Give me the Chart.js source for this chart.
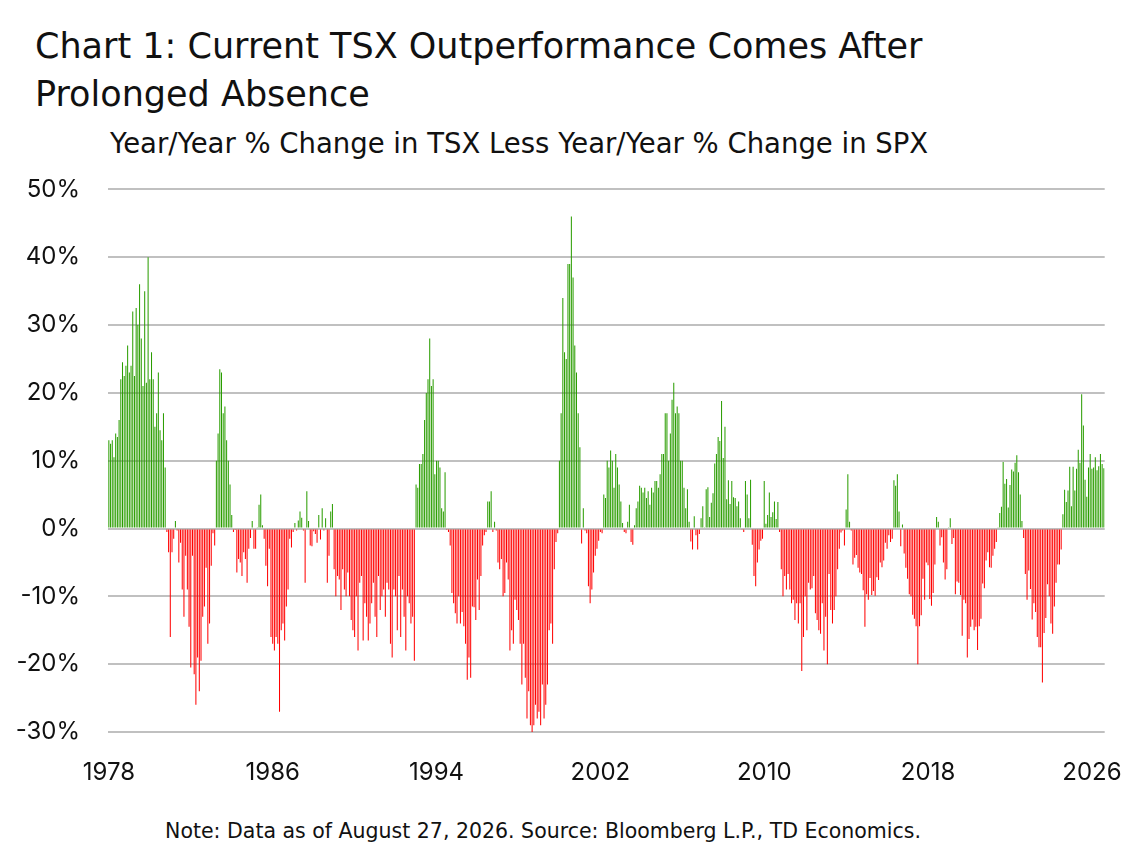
<!DOCTYPE html>
<html><head><meta charset="utf-8">
<script src="https://cdn.jsdelivr.net/npm/chart.js@4/dist/chart.umd.min.js"></script>
<style>
body{margin:0;background:#fff;font-family:"DejaVu Sans",sans-serif;color:#111;}
#t{position:absolute;left:35px;top:22px;font-size:35px;line-height:48px;font-weight:normal;}
#s{position:absolute;left:110px;top:127px;font-size:27.5px;}
#n{position:absolute;left:0;width:1086px;text-align:center;top:819px;font-size:20.5px;}
#c{position:absolute;left:0;top:147px;width:1140px;height:648px;}
</style></head><body>
<div id="t">Chart 1: Current TSX Outperformance Comes After<br>Prolonged Absence</div>
<div id="s">Year/Year % Change in TSX Less Year/Year % Change in SPX</div>
<div id="c"><canvas id="cv"></canvas></div>
<div id="n">Note: Data as of August 27, 2026. Source: Bloomberg L.P., TD Economics.</div>
<script>
const startYear = 1978;
const tickYears = [1978,1986,1994,2002,2010,2018,2026];
const values = [
13,12.5,13,10.5,14,13.5,16,22,24.5,22.5,24,27,
23,24,32,22.5,32.5,30,36,28,21,35,21.5,40,
22,26,22,15,17,23,14.5,13,17,9,-0.5,-3.5,
-16,-3.5,-1.5,1.1,-0.3,-5,-2.1,-9,-13,-4,-9,-14.5,
-20.5,-4,-21.5,-26,-19,-24,-19.5,-13,-11.5,-5.8,-17,-14,
-5.5,-0.7,-2.5,10,14,23.5,23,17,18,13,10,6.5,
2,-0.5,-0.2,-6.5,-4.5,-5,-7,-3.5,-4.5,-8,-3,-1.4,
1.1,-3,-3,0.2,3.5,5,0.5,-1.5,-5.5,-8.5,-3,-16,
-17,-18,-16,-17,-27,-15,-14,-16.5,-11.5,-9,-1.5,-2.8,
-0.5,0.8,-0.3,1.2,2.5,1.6,-0.3,-8,5.5,1.1,-2.5,-2.6,
-0.4,-0.8,-2.1,2,-1.6,3,-0.3,1.5,-8,-4,2.5,3.6,
-6,-10,-7,-7.5,-12,-6,-9,-10,-6.5,-10,-13.5,-15,
-16,-10,-18,-8,-7,-16.5,-11,-13,-16.5,-14,-11,-8,
-13,-16,-7,-12,-10,-9,-13,-8,-9,-17,-19,-9,
-10,-15,-7,-16,-9,-13,-18,-10,-11,-14,-13,-19.5,
6.5,6,9.5,9.5,11,16,20,22,28,21,22,8,
10,10,9,3,2.5,8.3,-0.2,-0.5,-2.5,-9.5,-11,-12.5,
-14,-10,-14,-12.3,-14.4,-17,-22.3,-19,-22,-11.5,-11.6,-13.5,
-7.5,-12,-7,-2.5,-1,-0.5,4,4,5.5,-0.5,1,-0.3,
-5,-6,-4.5,-10,-9.5,-5,-7.5,-18,-15,-17,-10.5,-12,
-13.5,-17,-23,-17,-22,-28,-24,-29,-30,-29,-26,-28,
-27,-29,-23,-28,-26,-23,-15,-14,-17,-6,-2,-0.7,
10,17,34,26,25,39,39,46,37,27,23,17,
12,-2.2,3,-0.3,-0.7,-8.5,-11,-9,-6.5,-4,-3,-1.8,
-0.5,-0.7,5,4.5,10,9,11.5,10,6,11,9,6.5,
4,0.8,-0.5,-0.7,1,3.5,-2,-2.4,0.5,3,4,6.3,
6,5.3,6,4.5,5.5,3.5,6,5.3,7,7,6,8,
11,11,17,17,10,14,19,21.5,17,18,17,10,
10,6,3,5.8,1,-1.9,-3.1,1.8,-1,-3.1,-0.8,1.5,
3.3,0.1,5.8,6.1,1.7,3.8,5.2,9.6,11,13.5,12.9,18.8,
10.4,15,4.3,7.1,3.6,7,4.6,4.5,3.3,4,1.5,-0.1,
-0.5,7,5,1.5,7.2,-2.4,-7,-8.5,-5,-3.1,-1.8,-1.5,
7,0.7,2,5.3,1.7,2.4,4,1.4,3.9,-0.5,-6,-10,
-7,-9,-6.7,-9,-11,-10.5,-13.5,-11,-14,-11,-21,-16,
-10,-15,-8,-9,-8.8,-7,-12.5,-13.5,-15,-15.5,-11,-18,
-13,-20,-6.7,-12,-14,-12,-10,-6,-3,-0.6,-0.3,-2.5,
2.8,8,1,-0.3,-5.3,-4.3,-3.9,-5.8,-6.5,-6.7,-9.1,-14.5,
-9.7,-10.5,-7.3,-9.8,-9.2,-9.9,-7.2,-7.6,-5,-5.7,-4.7,-2.1,
-3,-1,-2,-1.5,7.1,6.3,8,2.5,-2.6,0.6,-3.7,-5.8,
-7.4,-9.7,-10,-12.7,-13.3,-14.4,-20,-14.4,-12.8,-7.4,-10.5,-5,
-5.4,-10.4,-11.4,-9.5,-5.3,1.7,1,-2.5,-1.3,-5,-7.5,-6,
0.2,1.5,-2.3,-1.4,-9.7,-7.8,-8,-9.8,-15.8,-10.5,-11,-19,
-16.3,-14.5,-13.4,-15,-14.5,-17.9,-14.4,-13.3,-8.1,-8.8,-4.7,-3.5,
-5.7,-5.8,-4,-3,-2,0.1,2.3,3.2,9.8,6.6,7.3,3.1,
6.4,8.7,8.4,9.7,10.8,8.3,5,1.1,-1.4,-6.7,-10.5,-6.2,
-8.9,-13.4,-11,-12.3,-16,-17.5,-17.5,-22.7,-15.4,-13.2,-8.2,-10,
-14,-15.5,-11.5,-8,-5.3,-5.3,-3.1,2.1,5.7,3.9,5.6,9.1,
3.3,9.1,5.6,8.8,11.6,9.7,19.8,15.2,7.2,4.7,9,11,
8.8,9,10.5,8.6,9.2,11,9.5,8.9
];
const labels = values.map((v,i)=>String(startYear+Math.floor(i/12)));
const colors = values.map(v=>v>=0?'#2a9d00':'#ff0000');
const F = 'Inter, "Open Sans", sans-serif';
new Chart(document.getElementById('cv'),{
  type:'bar',
  data:{labels,datasets:[{data:values,backgroundColor:colors,barPercentage:0.6,categoryPercentage:1}]},
  options:{
    responsive:true,maintainAspectRatio:false,animation:false,
    layout:{padding:{top:0,right:35,bottom:8,left:0}},
    plugins:{legend:{display:false},tooltip:{enabled:false}},
    scales:{
      x:{grid:{display:false},border:{display:false},
        afterFit:s=>{s.height=55;},
        ticks:{autoSkip:false,maxRotation:0,padding:18,color:'#111',font:{family:F,size:24},
          callback:(v,i)=>(i%12===0 && tickYears.includes(startYear+i/12))?labels[i]:null}},
      y:{min:-30,max:50,afterFit:s=>{s.width=108;},
        grid:{color:'#c0c0c0',lineWidth:2,drawTicks:false},border:{display:false},
        ticks:{stepSize:10,padding:28,color:'#111',font:{family:F,size:24},callback:v=>v+'%'}}
    }
  }
});
</script>
</body></html>
